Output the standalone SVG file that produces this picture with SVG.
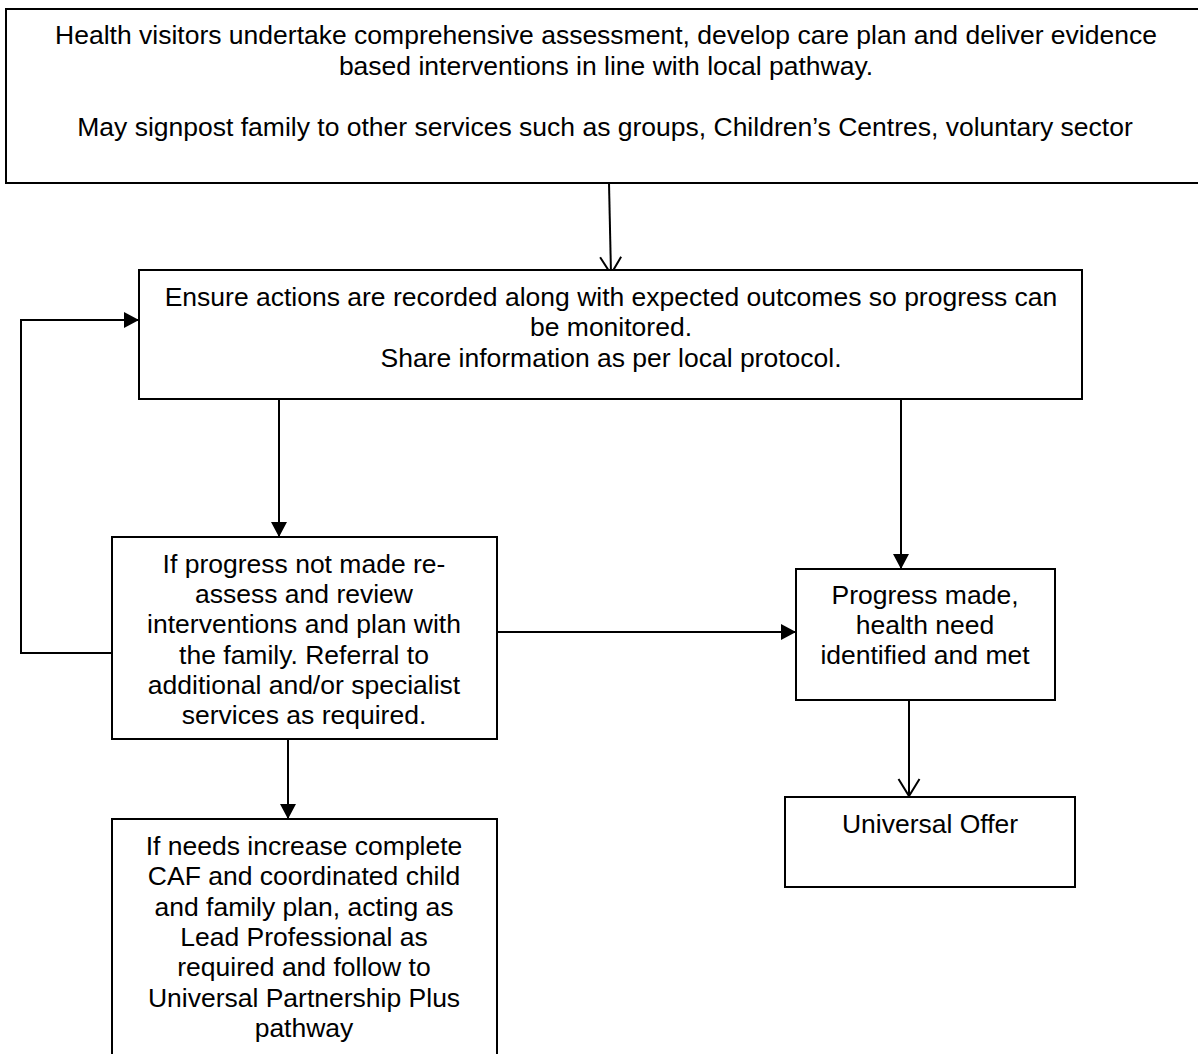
<svg xmlns="http://www.w3.org/2000/svg" width="1198" height="1054" viewBox="0 0 1198 1054">
<style>
.box{fill:#fff;stroke:#000;stroke-width:2}
.t{font-family:"Liberation Sans",Arial,sans-serif;font-size:26.5px;fill:#000;text-anchor:middle}
.c{fill:none;stroke:#000;stroke-width:2}
</style>
<defs>
<marker id="fa" markerUnits="userSpaceOnUse" markerWidth="16" markerHeight="16" refX="15" refY="8" orient="auto" viewBox="0 0 16 16">
<path d="M0,0 L15,8 L0,16 z" fill="#000"/>
</marker>
<marker id="oa" markerUnits="userSpaceOnUse" markerWidth="20" markerHeight="24" refX="18" refY="11.5" orient="auto" viewBox="0 0 20 24">
<path d="M1,1 L18,11.5 L1,22" fill="none" stroke="#000" stroke-width="2"/>
</marker>
</defs>
<rect width="1198" height="1054" fill="#fff"/>
<g id="connectors">
<path class="c" d="M609,183 L611,274" marker-end="url(#oa)"/>
<path class="c" d="M279,399 L279,537" marker-end="url(#fa)"/>
<path class="c" d="M901,399 L901,569" marker-end="url(#fa)"/>
<path class="c" d="M497,632 L796,632" marker-end="url(#fa)"/>
<path class="c" d="M112,653 L21,653 L21,320 L139,320" marker-end="url(#fa)"/>
<path class="c" d="M909,700 L909,796" marker-end="url(#oa)"/>
<path class="c" d="M288,739 L288,819" marker-end="url(#fa)"/>
</g>
<g id="n1">
<rect class="box" x="6" y="9" width="1210" height="174" stroke-width="2.5"/>
<text class="t" x="606" y="44">Health visitors undertake comprehensive assessment, develop care plan and deliver evidence</text>
<text class="t" x="606" y="74.5">based interventions in line with local pathway.</text>
<text class="t" x="605" y="136">May signpost family to other services such as groups, Children’s Centres, voluntary sector</text>
</g>
<g id="n2">
<rect class="box" x="139" y="270" width="943" height="129"/>
<text class="t" x="611" y="306">Ensure actions are recorded along with expected outcomes so progress can</text>
<text class="t" x="611" y="336">be monitored.</text>
<text class="t" x="611" y="367">Share information as per local protocol.</text>
</g>
<g id="n3">
<rect class="box" x="112" y="537" width="385" height="202"/>
<text class="t" x="304" y="573">If progress not made re-</text>
<text class="t" x="304" y="603">assess and review</text>
<text class="t" x="304" y="633">interventions and plan with</text>
<text class="t" x="304" y="664">the family. Referral to</text>
<text class="t" x="304" y="694">additional and/or specialist</text>
<text class="t" x="304" y="724">services as required.</text>
</g>
<g id="n4">
<rect class="box" x="796" y="569" width="259" height="131"/>
<text class="t" x="925" y="604">Progress made,</text>
<text class="t" x="925" y="634">health need</text>
<text class="t" x="925" y="664">identified and met</text>
</g>
<g id="n5">
<rect class="box" x="785" y="797" width="290" height="90"/>
<text class="t" x="930" y="833">Universal Offer</text>
</g>
<g id="n6">
<rect class="box" x="112" y="819" width="385" height="250"/>
<text class="t" x="304" y="855">If needs increase complete</text>
<text class="t" x="304" y="885">CAF and coordinated child</text>
<text class="t" x="304" y="916">and family plan, acting as</text>
<text class="t" x="304" y="946">Lead Professional as</text>
<text class="t" x="304" y="976">required and follow to</text>
<text class="t" x="304" y="1007">Universal Partnership Plus</text>
<text class="t" x="304" y="1037">pathway</text>
</g>
</svg>
